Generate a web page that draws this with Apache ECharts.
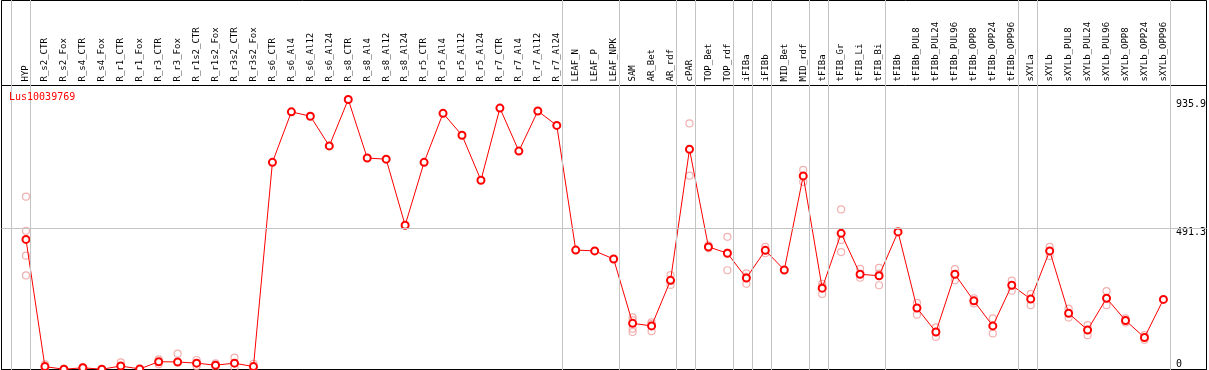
<!DOCTYPE html>
<html><head><meta charset="utf-8">
<script src="https://cdn.jsdelivr.net/npm/echarts@6/dist/echarts.min.js"></script>
<style>html,body{margin:0;padding:0;background:#fff}#c{width:1209px;height:370px}</style>
</head><body><div id="c"></div>
<script>
const geneName = 'Lus10039769';
const categories = ['HYP','R_s2_CTR','R_s2_Fox','R_s4_CTR','R_s4_Fox','R_r1_CTR','R_r1_Fox','R_r3_CTR','R_r3_Fox','R_r1s2_CTR','R_r1s2_Fox','R_r3s2_CTR','R_r3s2_Fox','R_s6_CTR','R_s6_Al4','R_s6_Al12','R_s6_Al24','R_s8_CTR','R_s8_Al4','R_s8_Al12','R_s8_Al24','R_r5_CTR','R_r5_Al4','R_r5_Al12','R_r5_Al24','R_r7_CTR','R_r7_Al4','R_r7_Al12','R_r7_Al24','LEAF_N','LEAF_P','LEAF_NPK','SAM','AR_Bet','AR_rdf','cPAR','TOP_Bet','TOP_rdf','iFIBa','iFIBb','MID_Bet','MID_rdf','tFIBa','tFIB_Gr','tFIB_Li','tFIB_Bi','tFIBb','tFIBb_PUL8','tFIBb_PUL24','tFIBb_PUL96','tFIBb_OPP8','tFIBb_OPP24','tFIBb_OPP96','sXYLa','sXYLb','sXYLb_PUL8','sXYLb_PUL24','sXYLb_PUL96','sXYLb_OPP8','sXYLb_OPP24','sXYLb_OPP96'];
const meanValues = [451,10,1,6,1,12,2,27,26,22,15,22,10,718,893,878,775,935.9,733,729,500,718,888,812,656,906,757,896,846,414,411,383,160,151,309,763,425,403,317,413,345,671,282,472,330,325,477,213,130,330,238,151,292,244,411,195,137,247,170,111,243];
const rep1 = [599,18,2,8,null,25,null,35,55,33,21,41,20,null,null,null,null,null,null,null,null,null,null,null,null,null,null,null,null,null,null,null,181,163,327,853,430,460,333,425,null,692,297,555,349,352,480,231,146,348,247,177,308,262,425,211,154,272,177,119,null];
const rep2 = [326,3,0,4,null,null,null,18,null,12,9,6,1,null,null,null,null,null,null,null,null,null,null,null,null,null,null,null,null,null,null,null,130,133,293,672,420,344,297,403,null,650,262,407,318,292,null,190,113,309,229,125,273,223,393,180,119,223,163,103,null];
const rep3 = [481,null,null,null,null,null,null,null,null,null,null,null,null,null,null,null,null,null,null,null,null,null,null,null,null,null,null,null,null,null,null,null,141,157,307,764,null,405,321,null,null,null,287,449,null,332,null,null,null,null,null,null,null,null,null,null,null,null,null,null,null];
const rep4 = [394.5,null,null,null,null,null,null,null,null,null,null,null,null,null,null,null,null,null,null,null,null,null,null,null,null,null,null,null,null,null,null,null,171,null,null,null,null,null,null,null,null,null,null,null,null,null,null,null,null,null,null,null,null,null,null,null,null,null,null,null,null];
const yTickValues = [0, 491.3, 935.9];
const referenceLineValue = 491.3;
const separatorAfter = [null,'HYP','R_r7_Al24','LEAF_NPK','AR_rdf','cPAR','TOP_rdf','iFIBa','iFIBb','MID_rdf','tFIBa','tFIB_Bi','tFIBb_OPP96','sXYLa','sXYLb_OPP96'];

const YMAX = 984.4;
const FONT = 'DejaVu Sans Mono';
const sepPos = separatorAfter.map(n => (n === null ? -1 : categories.indexOf(n)) + 0.23);

const chart = echarts.init(document.getElementById('c'), null, {renderer: 'canvas'});
const repStyle = {color: 'rgba(0,0,0,0)', borderColor: '#ef9c9c', borderWidth: 1.2};
const repSeries = [rep1, rep2, rep3, rep4].map(r => ({
  type: 'scatter', xAxisIndex: 0, yAxisIndex: 0, data: r, symbol: 'circle', symbolSize: 7,
  itemStyle: repStyle, z: 3, silent: true
}));
chart.setOption({
  animation: false,
  backgroundColor: '#fff',
  title: {text: geneName, left: 9, top: 92, padding: 0,
    textStyle: {color: '#ff0000', fontSize: 10, fontFamily: FONT, fontWeight: 'normal'}},
  grid: [
    {left: 16.5, right: 33.5, top: 85.5, bottom: 0.5},
    {left: 2.25, right: 28.75, top: 0, bottom: 0},
    {left: 1.5, right: 2.5, top: 85.5, bottom: 0.5, show: true, borderColor: '#000', borderWidth: 1, backgroundColor: 'transparent'},
    {left: 1.5, right: 2.5, top: 0.5, bottom: 0.5, show: true, borderColor: '#000', borderWidth: 1, backgroundColor: 'transparent'}
  ],
  xAxis: [
    {type: 'category', gridIndex: 0, position: 'top', data: categories, boundaryGap: true,
     axisLine: {show: false}, axisTick: {show: false}, splitLine: {show: false},
     axisLabel: {interval: 0, rotate: 90, fontSize: 9, fontFamily: FONT, color: '#000', margin: 4}},
    {type: 'value', gridIndex: 1, min: -1.25, max: 60.75, show: false},
    {type: 'value', gridIndex: 2, min: 0, max: 1, show: false},
    {type: 'value', gridIndex: 3, min: 0, max: 1, show: false}
  ],
  yAxis: [
    {type: 'value', gridIndex: 0, min: 0, max: YMAX, position: 'right',
     axisLine: {show: false}, axisTick: {show: false}, splitLine: {show: false},
     axisLabel: {customValues: yTickValues.filter(v => v !== 0), formatter: v => String(v),
       verticalAlign: 'top', align: 'left', margin: 3, fontSize: 10, fontFamily: FONT, color: '#000'}},
    {type: 'value', gridIndex: 1, min: 0, max: 1, show: false},
    {type: 'value', gridIndex: 2, min: 0, max: YMAX, show: false},
    {type: 'value', gridIndex: 3, min: 0, max: 1, show: false},
    {type: 'value', gridIndex: 0, min: 0, max: YMAX, position: 'right',
     axisLine: {show: false}, axisTick: {show: false}, splitLine: {show: false},
     axisLabel: {customValues: yTickValues.filter(v => v === 0), formatter: v => String(v),
       verticalAlign: 'bottom', align: 'left', margin: 3, fontSize: 10, fontFamily: FONT, color: '#000'}}
  ],
  series: [
    {type: 'line', xAxisIndex: 1, yAxisIndex: 1, data: [], silent: true, z: 1,
     markLine: {silent: true, symbol: 'none', label: {show: false}, animation: false,
       lineStyle: {color: '#c4c4c4', width: 1, type: 'solid'},
       data: sepPos.map(x => ({xAxis: x}))}},
    {type: 'line', xAxisIndex: 2, yAxisIndex: 2, data: [], silent: true, z: 1,
     markLine: {silent: true, symbol: 'none', label: {show: false}, animation: false,
       lineStyle: {color: '#c4c4c4', width: 1, type: 'solid'},
       data: [{yAxis: referenceLineValue}]}},
    ...repSeries,
    {type: 'line', name: geneName, xAxisIndex: 0, yAxisIndex: 0, data: meanValues,
     symbol: 'emptyCircle', symbolSize: 7, z: 4, silent: true,
     lineStyle: {color: '#ff0000', width: 1},
     itemStyle: {color: '#ff0000', borderColor: '#ff0000', borderWidth: 1.2}}
  ]
});
</script></body></html>
